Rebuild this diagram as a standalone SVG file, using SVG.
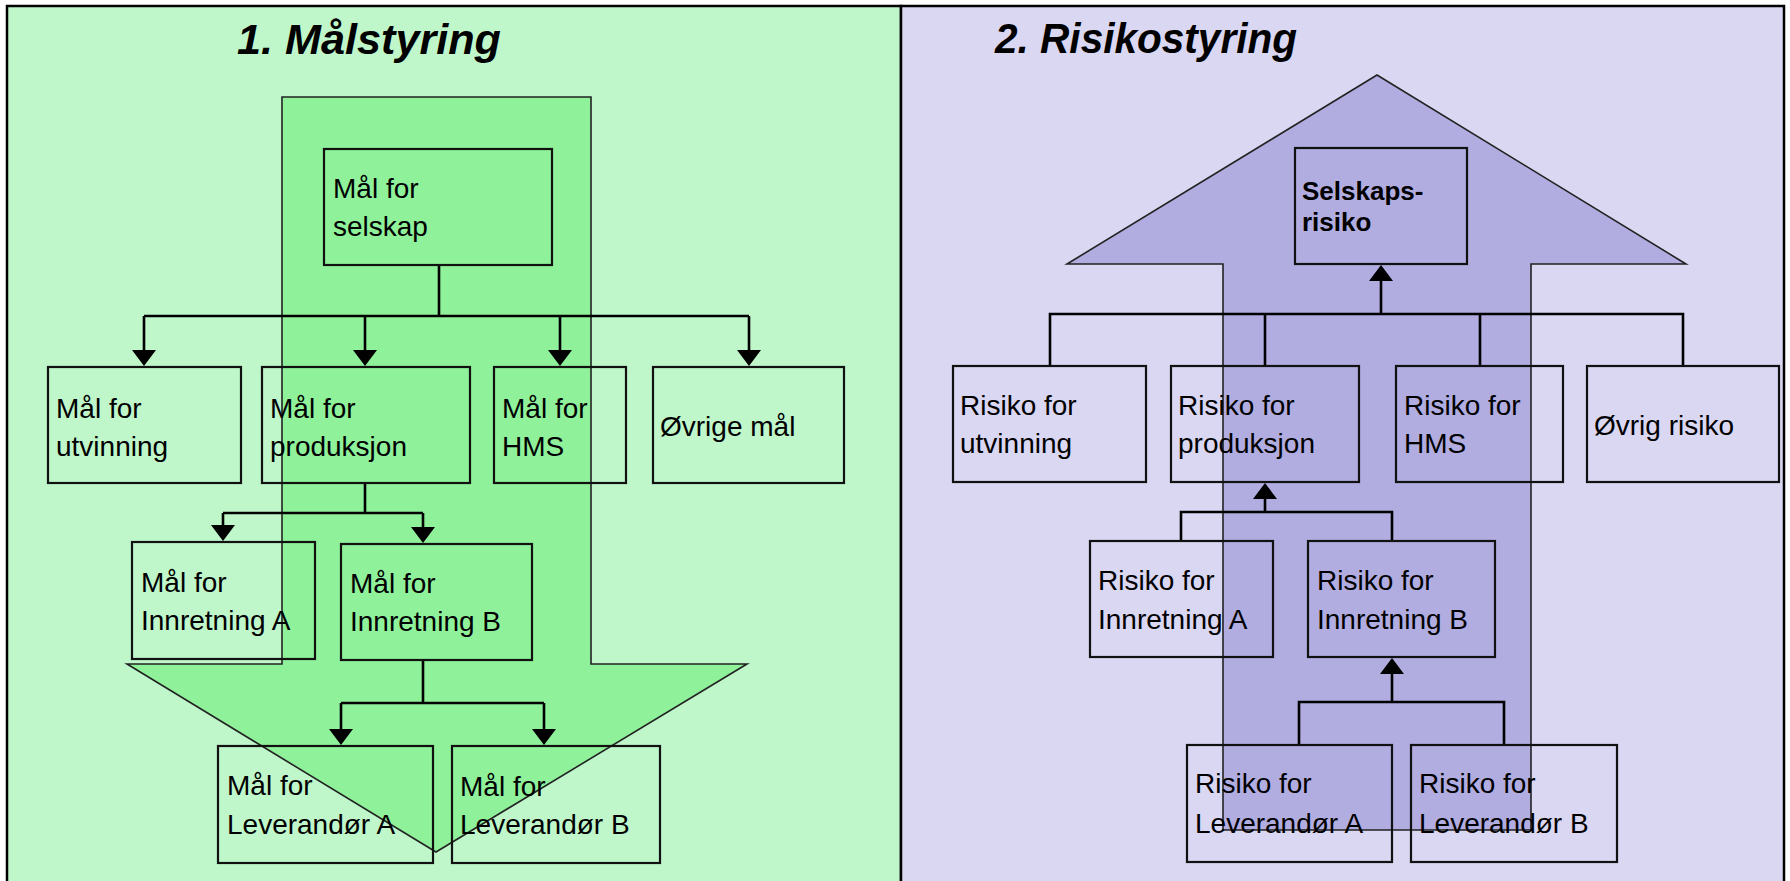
<svg xmlns="http://www.w3.org/2000/svg" width="1790" height="881" viewBox="0 0 1790 881">
<defs>
<style>
.box{fill:none;stroke:#111;stroke-width:2.2}
.t{font-family:"Liberation Sans",Arial,sans-serif;font-size:28px;fill:#000}
.tb{font-family:"Liberation Sans",Arial,sans-serif;font-size:26px;font-weight:bold;fill:#000}
.title{font-family:"Liberation Sans",Arial,sans-serif;font-size:43px;font-weight:bold;font-style:italic;fill:#000}
.ln{fill:none;stroke:#000;stroke-width:2.6}
.bigL{fill:#8FF29B;stroke:#222;stroke-width:1.6}
.bigR{fill:#B1ADE0;stroke:#222;stroke-width:1.6}
</style>
<marker id="ah" viewBox="0 0 16 24" refX="13" refY="12" markerWidth="16" markerHeight="24" markerUnits="userSpaceOnUse" orient="auto">
<path d="M0,0 L16,12 L0,24 z" fill="#000"/>
</marker>
</defs>
<rect width="1790" height="881" fill="#ffffff"/>
<g id="panel-left">
<rect x="7" y="6" width="894" height="880" fill="#BFF7CB" stroke="#000" stroke-width="2.5"/>
<text class="title" x="237" y="54" textLength="264" lengthAdjust="spacingAndGlyphs">1. Målstyring</text>
<path id="arrow-down" class="bigL" d="M282,97 L591,97 L591,664 L747,664 L436,852 L127,664 L282,664 Z"/>
</g>
<g id="panel-right">
<rect x="901" y="6" width="883" height="880" fill="#DAD7F3" stroke="#000" stroke-width="2.5"/>
<text class="title" x="995" y="53" textLength="302" lengthAdjust="spacingAndGlyphs">2. Risikostyring</text>
<path id="arrow-up" class="bigR" d="M1223,830 L1531,830 L1531,264 L1686,264 L1377,75 L1067,264 L1223,264 Z"/>
</g>
<g id="connectors">
<path class="ln" d="M439,265 V316 M144,316 H749"/>
<path class="ln" d="M144,316 V363" marker-end="url(#ah)"/>
<path class="ln" d="M365,316 V363" marker-end="url(#ah)"/>
<path class="ln" d="M560,316 V363" marker-end="url(#ah)"/>
<path class="ln" d="M749,316 V363" marker-end="url(#ah)"/>
<path class="ln" d="M365,484 V513 M223,513 H423"/>
<path class="ln" d="M223,513 V538" marker-end="url(#ah)"/>
<path class="ln" d="M423,513 V540" marker-end="url(#ah)"/>
<path class="ln" d="M423,660 V703 M341,703 H544"/>
<path class="ln" d="M341,703 V742" marker-end="url(#ah)"/>
<path class="ln" d="M544,703 V742" marker-end="url(#ah)"/>
<path class="ln" d="M1050,366 V314 H1683 V366 M1265,366 V314 M1480,366 V314"/>
<path class="ln" d="M1381,314 V268" marker-end="url(#ah)"/>
<path class="ln" d="M1181,541 V512 H1392 V541"/>
<path class="ln" d="M1265,512 V486" marker-end="url(#ah)"/>
<path class="ln" d="M1299,745 V702 H1504 V745"/>
<path class="ln" d="M1392,702 V661" marker-end="url(#ah)"/>
</g>
<g id="n-selskap"><rect class="box" x="324" y="149" width="228" height="116"/><text class="t" x="333" y="198">Mål for</text><text class="t" x="333" y="236">selskap</text></g>
<g id="n-utvinning"><rect class="box" x="48" y="367" width="193" height="116"/><text class="t" x="56" y="418">Mål for</text><text class="t" x="56" y="456">utvinning</text></g>
<g id="n-produksjon"><rect class="box" x="262" y="367" width="208" height="116"/><text class="t" x="270" y="418">Mål for</text><text class="t" x="270" y="456">produksjon</text></g>
<g id="n-hms"><rect class="box" x="494" y="367" width="132" height="116"/><text class="t" x="502" y="418">Mål for</text><text class="t" x="502" y="456">HMS</text></g>
<g id="n-ovrige"><rect class="box" x="653" y="367" width="191" height="116"/><text class="t" x="660" y="436">Øvrige mål</text></g>
<g id="n-innA"><rect class="box" x="132" y="542" width="183" height="117"/><text class="t" x="141" y="592">Mål for</text><text class="t" x="141" y="630">Innretning A</text></g>
<g id="n-innB"><rect class="box" x="341" y="544" width="191" height="116"/><text class="t" x="350" y="593">Mål for</text><text class="t" x="350" y="631">Innretning B</text></g>
<g id="n-levA"><rect class="box" x="218" y="746" width="215" height="117"/><text class="t" x="227" y="795">Mål for</text><text class="t" x="227" y="834">Leverandør A</text></g>
<g id="n-levB"><rect class="box" x="452" y="746" width="208" height="117"/><text class="t" x="460" y="796">Mål for</text><text class="t" x="460" y="834">Leverandør B</text></g>
<g id="r-selskap"><rect class="box" x="1295" y="148" width="172" height="116"/><text class="tb" x="1302" y="200">Selskaps-</text><text class="tb" x="1302" y="231">risiko</text></g>
<g id="r-utvinning"><rect class="box" x="953" y="366" width="193" height="116"/><text class="t" x="960" y="415">Risiko for</text><text class="t" x="960" y="453">utvinning</text></g>
<g id="r-produksjon"><rect class="box" x="1171" y="366" width="188" height="116"/><text class="t" x="1178" y="415">Risiko for</text><text class="t" x="1178" y="453">produksjon</text></g>
<g id="r-hms"><rect class="box" x="1396" y="366" width="167" height="116"/><text class="t" x="1404" y="415">Risiko for</text><text class="t" x="1404" y="453">HMS</text></g>
<g id="r-ovrig"><rect class="box" x="1587" y="366" width="192" height="116"/><text class="t" x="1594" y="435">Øvrig risiko</text></g>
<g id="r-innA"><rect class="box" x="1090" y="541" width="183" height="116"/><text class="t" x="1098" y="590">Risiko for</text><text class="t" x="1098" y="629">Innretning A</text></g>
<g id="r-innB"><rect class="box" x="1308" y="541" width="187" height="116"/><text class="t" x="1317" y="590">Risiko for</text><text class="t" x="1317" y="629">Innretning B</text></g>
<g id="r-levA"><rect class="box" x="1187" y="745" width="205" height="117"/><text class="t" x="1195" y="793">Risiko for</text><text class="t" x="1195" y="833">Leverandør A</text></g>
<g id="r-levB"><rect class="box" x="1411" y="745" width="206" height="117"/><text class="t" x="1419" y="793">Risiko for</text><text class="t" x="1419" y="833">Leverandør B</text></g>
</svg>
